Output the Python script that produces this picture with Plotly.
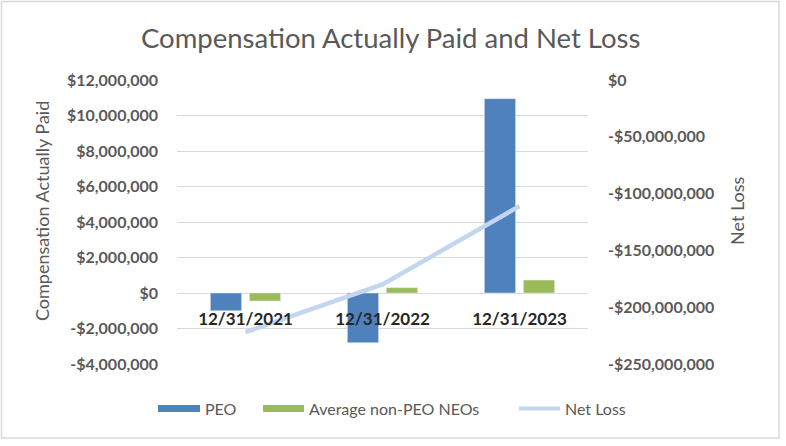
import plotly.graph_objects as go

categories = ["12/31/2021", "12/31/2022", "12/31/2023"]
peo = [-1_000_000, -2_800_000, 10_950_000]
avg_non_peo = [-450_000, 300_000, 730_000]
net_loss = [-222_000_000, -180_000_000, -111_000_000]

left_ticks = [-4_000_000, -2_000_000, 0, 2_000_000, 4_000_000, 6_000_000, 8_000_000, 10_000_000, 12_000_000]
left_labels = ["-$4,000,000", "-$2,000,000", "$0", "$2,000,000", "$4,000,000", "$6,000,000",
               "$8,000,000", "$10,000,000", "$12,000,000"]
right_ticks = [-250_000_000, -200_000_000, -150_000_000, -100_000_000, -50_000_000, 0]
right_labels = ["-$250,000,000", "-$200,000,000", "-$150,000,000", "-$100,000,000", "-$50,000,000", "$0"]

FONT = "Lato"
GRAY = "#595959"
BLUE = "#4F81BD"
GREEN = "#9BBB59"
LINE = "#C3D6EF"

# plot area in pixels
L, R, T, B = 177, 588, 80, 364
W, H = R - L, B - T


def px(x):
    return (x - L) / W


def py(y):
    return (B - y) / H


fig = go.Figure()
fig.add_trace(go.Bar(x=categories, y=peo, name="PEO", marker_color=BLUE))
fig.add_trace(go.Bar(x=categories, y=avg_non_peo, name="Average non-PEO NEOs", marker_color=GREEN))
fig.add_trace(go.Scatter(x=categories, y=net_loss, name="Net Loss", mode="lines",
                         line=dict(color=LINE, width=4.5), yaxis="y2"))

shapes = [
    dict(type="rect", xref="paper", yref="paper", x0=px(1.5), x1=px(779), y0=py(438), y1=py(1.5),
         line=dict(color="#D9D9D9", width=1.5), layer="below"),
    dict(type="rect", xref="paper", yref="paper", x0=px(158), x1=px(200), y0=py(412), y1=py(405),
         fillcolor=BLUE, line=dict(width=0)),
    dict(type="rect", xref="paper", yref="paper", x0=px(263), x1=px(304), y0=py(412), y1=py(405),
         fillcolor=GREEN, line=dict(width=0)),
    dict(type="line", xref="paper", yref="paper", x0=px(519), x1=px(560), y0=py(408.5), y1=py(408.5),
         line=dict(color=LINE, width=4)),
]

annotations = [
    dict(text="PEO", xref="paper", yref="paper", x=px(203), y=py(408), xanchor="left", yanchor="middle",
         showarrow=False, font=dict(size=16, color=GRAY, family=FONT)),
    dict(text="Average non-PEO NEOs", xref="paper", yref="paper", x=px(307), y=py(408), xanchor="left",
         yanchor="middle", showarrow=False, font=dict(size=16, color=GRAY, family=FONT)),
    dict(text="Net Loss", xref="paper", yref="paper", x=px(563), y=py(408), xanchor="left",
         yanchor="middle", showarrow=False, font=dict(size=16, color=GRAY, family=FONT)),
    dict(text="Compensation Actually Paid", xref="paper", yref="paper", x=px(42), y=py(211),
         xanchor="center", yanchor="middle", textangle=-90, showarrow=False,
         font=dict(size=18, color=GRAY, family=FONT)),
    dict(text="Net Loss", xref="paper", yref="paper", x=px(737), y=py(211),
         xanchor="center", yanchor="middle", textangle=-90, showarrow=False,
         font=dict(size=18, color=GRAY, family=FONT)),
    dict(text="Compensation Actually Paid and Net Loss", xref="paper", yref="paper", x=px(390), y=py(38),
         xanchor="center", yanchor="middle", showarrow=False,
         font=dict(size=27.5, color=GRAY, family=FONT)),
]

fig.update_layout(
    width=786, height=446,
    margin=dict(l=L, r=786 - R, t=T, b=446 - B, autoexpand=False),
    paper_bgcolor="white", plot_bgcolor="white",
    font=dict(family=FONT, color=GRAY),
    showlegend=False,
    barmode="group", bargap=0.43, bargroupgap=0.2,
    xaxis=dict(type="category", anchor="free", position=0.25, showline=False, ticks="",
               showgrid=False, automargin=False,
               tickfont=dict(size=17, color="#262626", family=FONT, weight="bold"),
               ticklabelstandoff=14),
    yaxis=dict(range=[-4_000_000, 12_000_000], tickvals=left_ticks, ticktext=left_labels,
               showgrid=True, gridcolor="#D9D9D9", gridwidth=1, zeroline=True,
               zerolinecolor="#D9D9D9", zerolinewidth=1, automargin=False,
               tickfont=dict(size=16, color=GRAY, family=FONT, weight="bold"),
               ticklabelstandoff=18),
    yaxis2=dict(range=[-250_000_000, 0], tickvals=right_ticks, ticktext=right_labels,
                overlaying="y", side="right", showgrid=False, zeroline=False, automargin=False,
                tickfont=dict(size=16, color=GRAY, family=FONT, weight="bold"),
                ticklabelstandoff=19),
    shapes=shapes,
    annotations=annotations,
)

fig.write_html("out.html", config={"displayModeBar": False},
               post_script="document.body.style.margin='0';")
